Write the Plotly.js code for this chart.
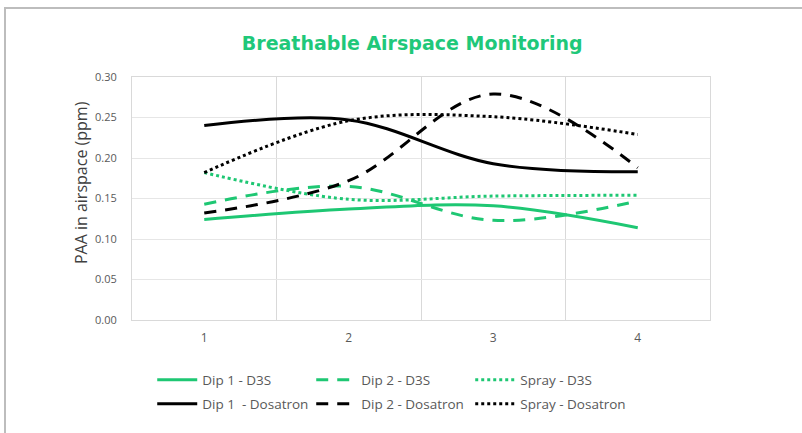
<!DOCTYPE html>
<html>
<head>
<meta charset="utf-8">
<script src="https://cdn.plot.ly/plotly-3.0.1.min.js"></script>
<style>
  html, body { margin: 0; padding: 0; background: #fff; }
  #wrap { position: relative; width: 802px; height: 433px; overflow: hidden; }
  #chart { position: absolute; left: 0; top: 0; width: 802px; height: 433px; }
  #frame { position: absolute; left: 4px; top: 7px; width: 820px; height: 440px;
           border-left: 2px solid #bdbdbd; border-top: 2px solid #bdbdbd; pointer-events: none; }
</style>
</head>
<body>
<div id="wrap">
  <div id="chart"></div>
  <div id="frame"></div>
</div>
<script>
const categories = ['1', '2', '3', '4'];
const dip1D3S = [0.124, 0.137, 0.141, 0.114];
const dip2D3S = [0.143, 0.165, 0.123, 0.147];
const sprayD3S = [0.182, 0.149, 0.153, 0.154];
const dip1Dosatron = [0.240, 0.247, 0.193, 0.183];
const dip2Dosatron = [0.132, 0.172, 0.279, 0.188];
const sprayDosatron = [0.182, 0.246, 0.251, 0.229];
const seriesNames = ['Dip 1 - D3S', 'Dip 2 - D3S', 'Spray - D3S',
                     'Dip 1  - Dosatron', 'Dip 2 - Dosatron', 'Spray - Dosatron'];
const yTicks = [0, 0.05, 0.10, 0.15, 0.20, 0.25, 0.30];
const yTickText = ['0.00', '0.05', '0.10', '0.15', '0.20', '0.25', '0.30'];
const yTitle = 'PAA in airspace (ppm)';
const chartTitle = 'Breathable Airspace Monitoring';

const GREEN = '#1ec773';
const BLACK = '#000000';

function tr(y, name, color, dash, legend) {
  return {
    x: categories, y: y, name: name, type: 'scatter', mode: 'lines',
    legend: legend,
    line: { color: color, width: 3, dash: dash, shape: 'spline', smoothing: 1 },
    hoverinfo: 'skip'
  };
}

const data = [
  tr(dip1D3S, seriesNames[0], GREEN, 'solid', 'legend'),
  tr(dip2D3S, seriesNames[1], GREEN, '12px,9px', 'legend'),
  tr(sprayD3S, seriesNames[2], GREEN, '3px,3px', 'legend'),
  tr(dip1Dosatron, seriesNames[3], BLACK, 'solid', 'legend2'),
  tr(dip2Dosatron, seriesNames[4], BLACK, '12px,9px', 'legend2'),
  tr(sprayDosatron, seriesNames[5], BLACK, '3px,3px', 'legend2')
];

const legendBase = {
  orientation: 'h', x: 0.035, xanchor: 'left', yanchor: 'middle',
  entrywidth: 104, entrywidthmode: 'pixels',
  font: { family: 'Open Sans, sans-serif', size: 13.5, color: '#595959' },
  itemwidth: 40, traceorder: 'normal', bgcolor: 'rgba(0,0,0,0)'
};

const layout = {
  width: 802, height: 433,
  margin: { l: 132, r: 92, t: 77, b: 113 },
  paper_bgcolor: '#ffffff', plot_bgcolor: '#ffffff',
  font: { family: 'Open Sans, sans-serif', color: '#595959', size: 12 },
  title: {
    text: '<b>' + chartTitle + '</b>',
    font: { family: 'DejaVu Sans, sans-serif', size: 19, color: '#1fc87a' },
    x: 0.514, xanchor: 'center', y: 0.9, yanchor: 'middle'
  },
  xaxis: {
    type: 'category', tickson: 'boundaries', range: [-0.5, 3.5],
    showgrid: true, gridcolor: '#d9d9d9', gridwidth: 1,
    showline: true, linecolor: '#d9d9d9', mirror: true,
    ticks: '', ticklabelstandoff: 7,
    tickfont: { size: 12, color: '#595959' },
    zeroline: false, fixedrange: true
  },
  yaxis: {
    range: [0, 0.30], tickvals: yTicks, ticktext: yTickText,
    showgrid: true, gridcolor: '#e6e6e6', gridwidth: 1,
    showline: true, linecolor: '#d9d9d9', mirror: true,
    zeroline: false, ticks: '', ticklabelstandoff: 12,
    tickfont: { size: 11, color: '#595959' },
    fixedrange: true
  },
  annotations: [{
    text: yTitle, textangle: -90, showarrow: false,
    xref: 'paper', yref: 'paper', x: -0.088, y: 0.564,
    xanchor: 'center', yanchor: 'middle',
    font: { family: 'Liberation Sans Narrow, Open Sans, sans-serif', size: 16, color: '#404040' }
  }],
  showlegend: true,
  legend: Object.assign({}, legendBase, { y: -0.247 }),
  legend2: Object.assign({}, legendBase, { y: -0.346 })
};

Plotly.newPlot('chart', data, layout, { displayModeBar: false, staticPlot: true });
</script>
</body>
</html>
